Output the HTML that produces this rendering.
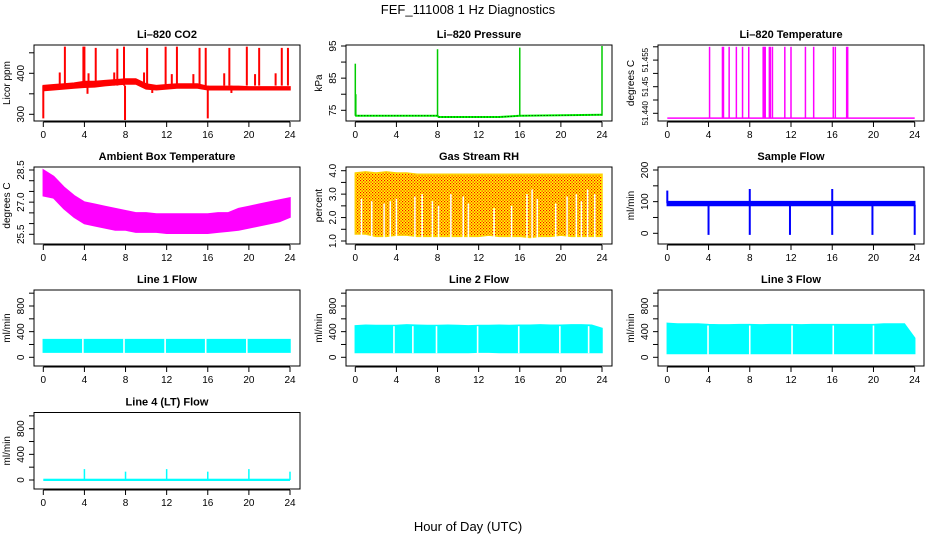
<!DOCTYPE html>
<html><head><meta charset="utf-8"><style>
html,body{margin:0;padding:0;background:#fff;}
svg{display:block;}
text{font-family:"Liberation Sans",sans-serif;fill:#000;}
.t{font-size:11px;font-weight:bold;}
.a{font-size:10px;}
</style></head><body>
<svg id="fig" width="936" height="540" viewBox="0 0 936 540" xmlns="http://www.w3.org/2000/svg">
<defs>
<pattern id="rhpat" width="3" height="3" patternUnits="userSpaceOnUse">
<rect width="3" height="3" fill="#ffff00"/><rect x="0" y="0" width="1.2" height="1.2" fill="#ff0000"/><rect x="1.5" y="1.5" width="1.2" height="1.2" fill="#ff0000"/>
</pattern>
</defs>
<text x="468" y="14" text-anchor="middle" font-size="13">FEF_111008  1 Hz Diagnostics</text>
<text x="468" y="531" text-anchor="middle" font-size="13">Hour of Day (UTC)</text>
</svg>
<script>
// ---------- data ----------
const xTicks = [0,4,8,12,16,20,24];
const hours = [0,1,2,3,4,5,6,7,8,9,10,11,12,13,14,15,16,17,18,19,20,21,22,23,24];
// CO2
const co2Lo = [358,360,362,364,366,367,370,372,374,374,362,360,362,364,364,364,360,360,360,360,360,360,360,360,360];
const co2Hi = [370,372,374,376,380,380,382,384,386,386,374,370,372,374,374,374,368,368,368,368,367,367,367,367,367];
const co2SpikeT = [2.1,3.9,4.0,5.1,7.2,7.85,10.1,11.9,13.0,15.2,15.8,18.1,19.8,21.0,23.2,23.8,1.6,4.4,6.9,9.8,12.5,14.6,17.6,20.6,22.6];
const co2SpikeV = [465,465,465,462,460,465,462,465,465,462,462,462,465,462,462,462,402,400,402,402,398,398,400,398,400];
const co2DipT = [0.0,7.95,16.0,4.3,10.6,18.3];
const co2DipV = [290,286,290,350,352,352];
// Pressure
const presT = [0,8,8.1,14,16,16.1,24];
const presV = [73.3,73.3,72.9,72.9,73.3,73.3,73.6];
const presSpikeT = [0.0,0.05,8.0,16.0,24.0];
const presSpikeV = [89.5,80,94,94.5,95];
// Li-820 temperature
const tempBase = 51.4391;
const tempSpikeT = [4.1,5.35,5.45,6.0,6.7,7.3,7.9,9.3,9.4,9.5,9.9,10.0,10.2,11.4,12.0,13.4,14.2,16.1,16.3,17.4,17.5];
const tempSpikeV = [51.4525,51.4525,51.4525,51.4525,51.4525,51.4525,51.4525,51.4525,51.4525,51.4525,51.4525,51.4525,51.4525,51.4525,51.4525,51.4525,51.4525,51.4525,51.4525,51.4525,51.4525];
// Ambient box temperature
const ambHi = [28.5,28.2,27.7,27.3,27.0,26.9,26.8,26.7,26.6,26.5,26.5,26.45,26.45,26.45,26.45,26.45,26.45,26.5,26.5,26.7,26.8,26.9,27.0,27.1,27.2];
const ambLo = [27.3,27.2,26.7,26.3,26.0,25.9,25.8,25.7,25.7,25.6,25.6,25.6,25.55,25.55,25.55,25.55,25.55,25.6,25.65,25.7,25.8,25.9,26.0,26.1,26.3];
// Gas stream RH
const rhHi = [3.9,3.95,3.9,3.95,3.9,3.9,3.85,3.85,3.85,3.85,3.85,3.85,3.85,3.85,3.85,3.85,3.85,3.85,3.85,3.85,3.85,3.85,3.85,3.85,3.85];
const rhLo = [1.3,1.3,1.2,1.2,1.25,1.25,1.2,1.2,1.2,1.2,1.2,1.2,1.2,1.25,1.2,1.2,1.2,1.15,1.2,1.2,1.25,1.2,1.2,1.2,1.2];
const rhGapT = [0.6,1.6,2.8,3.4,4.0,5.8,6.5,7.5,8.1,9.3,10.5,11.0,13.5,15.2,16.7,17.2,17.7,19.5,20.6,21.5,22.0,22.6,23.3];
const rhGapV = [2.8,2.7,2.6,2.7,2.8,2.9,3.0,2.7,2.5,3.0,2.9,2.6,2.4,2.5,3.0,3.2,2.8,2.6,2.9,3.0,2.7,3.2,3.0];
// Sample flow
const sfLo = 88, sfHi = 100;
const sfDipT = [4.0,8.0,11.9,16.0,19.9,24.0];
const sfDipV = [-5,-5,-5,-5,-5,-5];
const sfSpikeT = [0.0,8.0,16.0];
const sfSpikeV = [135,140,140];
// Line flows
const l1Lo = [80,80,80,80,80,80,80,80,80,80,80,80,80,80,80,80,80,80,80,80,80,80,80,80,80];
const l1Hi = [275,275,275,275,275,275,275,275,275,275,275,275,275,275,275,275,275,275,275,275,275,275,275,275,275];
const l1GapT = [3.85,7.85,11.85,15.8,19.8];
const l2Lo = [75,75,75,75,75,75,75,75,75,75,75,75,80,80,75,75,75,75,75,75,75,75,75,75,75];
const l2Hi = [490,500,495,495,495,505,500,495,495,500,495,490,495,495,500,495,500,500,505,500,500,505,505,500,450];
const l2GapT = [3.76,5.6,7.9,11.9,15.9,19.9,22.7];
const l3Lo = [60,60,60,60,60,60,60,60,60,60,60,60,60,60,60,60,60,60,60,60,60,60,60,60,60];
const l3Hi = [530,520,520,520,510,505,505,510,510,505,510,510,510,505,510,510,510,510,510,510,510,520,520,520,300];
const l3GapT = [3.95,8.0,12.1,16.1,20.0];
const l4Base = [0,20];
const l4SpikeT = [4.0,8.0,12.0,16.0,20.0,24.0];
const l4SpikeV = [170,130,170,130,170,130];

// ---------- layout ----------
const svg = document.getElementById('fig');
const NS = 'http://www.w3.org/2000/svg';
const cols = [{b0:34,b1:300,x0:43.3,x24:290},{b0:346,b1:612,x0:355.3,x24:602},{b0:658,b1:924,x0:667.3,x24:914.7}];
const rows = [[45,121],[167,244],[290,366],[412.5,489]];
function el(tag, attrs, parent){const e=document.createElementNS(NS,tag);for(const k in attrs)e.setAttribute(k,attrs[k]);(parent||svg).appendChild(e);return e;}
function lin(v0,p0,v1,p1){return v=>p0+(v-v0)*(p1-p0)/(v1-v0);}

function panel(name,title,ylab,c,r,yscale,yTicks,yLabels,ylabels2,lblFont){
  const g=el('g',{});
  
  
  const C=cols[c],R=rows[r];
  const xs=lin(0,C.x0,24,C.x24);
  const t=el('text',{x:(C.b0+C.b1)/2,y:R[0]-7,'text-anchor':'middle',class:'t'},g);t.textContent=title;
  
  
  const plot=el('g',{},g);
  
  
  const box=el('rect',{x:C.b0,y:R[0],width:C.b1-C.b0,height:R[1]-R[0],fill:'none',stroke:'#000','stroke-width':1},g);
  
  
  const xa=el('g',{},g);
  
  
  el('line',{x1:xs(0),x2:xs(24),y1:R[1]+1,y2:R[1]+1,stroke:'#000'},xa);
  xTicks.forEach(v=>{el('line',{x1:xs(v),x2:xs(v),y1:R[1]+1,y2:R[1]+6,stroke:'#000'},xa);
    const tx=el('text',{x:xs(v),y:R[1]+17,'text-anchor':'middle',class:'a'},xa);tx.textContent=v;});
  const ya=el('g',{},g);
  
  
  const ax=C.b0;
  el('line',{x1:ax,x2:ax,y1:yscale(yTicks[0]),y2:yscale(yTicks[yTicks.length-1]),stroke:'#000'},ya);
  yTicks.forEach(v=>el('line',{x1:ax-5,x2:ax,y1:yscale(v),y2:yscale(v),stroke:'#000'},ya));
  yLabels.forEach((v,i)=>{const y=yscale(v);const attrs={x:ax-10,y:y,'text-anchor':'middle',class:'a',transform:`rotate(-90 ${ax-10} ${y})`};
    if(lblFont){attrs['font-size']=lblFont;attrs.style='font-size:'+lblFont+'px';}
    const tx=el('text',attrs,ya);tx.textContent=ylabels2?ylabels2[i]:v;});
  const yl=el('text',{x:ax-24,y:(R[0]+R[1])/2,'text-anchor':'middle',class:'a',transform:`rotate(-90 ${ax-24} ${(R[0]+R[1])/2})`},g);yl.textContent=ylab;
  
  
  return {plot,xs};
}
function band(p,xs,ys,lo,hi,fill,name){
  let d='M'+hours.map((h,i)=>xs(h)+','+ys(hi[i])).join('L');
  for(let i=hours.length-1;i>=0;i--)d+='L'+xs(hours[i])+','+ys(lo[i]);
  const e=el('path',{d:d+'Z',fill:fill,stroke:fill==='url(#rhpat)'?'#ffd000':fill,'stroke-width':1.5},p);
  
  
}
function vlines(p,xs,ys,T,V,base,col,w,name){
  T.forEach((t,i)=>{const b=Array.isArray(base)?base[i]:base;
    const e=el('line',{x1:xs(t),x2:xs(t),y1:ys(b),y2:ys(V[i]),stroke:col,'stroke-width':w},p);
    
    });
}
function gaps(p,xs,ys,T,lo,hi,name){
  T.forEach(t=>{const e=el('line',{x1:xs(t),x2:xs(t),y1:ys(lo)+1,y2:ys(hi)-1,stroke:'#fff','stroke-width':1.6},p);
    
    });
}

// CO2
(()=>{const ys=lin(300,114.3,400,73.3);const {plot,xs}=panel('co2','Li\u2013820 CO2','Licor ppm',0,0,ys,[300,350,400,450],[300,400]);
 band(plot,xs,ys,co2Lo,co2Hi,'#ff0000','co2-series');
 vlines(plot,xs,ys,co2SpikeT,co2SpikeV,370,'#ff0000',2,'co2-spike');
 vlines(plot,xs,ys,co2DipT,co2DipV,370,'#ff0000',2,'co2-dip');})();
// Pressure
(()=>{const ys=lin(75,110.3,95,46);const {plot,xs}=panel('pressure','Li\u2013820 Pressure','kPa',1,0,ys,[75,80,85,90,95],[75,85,95]);
 const pts=presT.map((t,i)=>xs(t)+','+ys(presV[i])).join(' ');
 let e=el('polyline',{points:pts,fill:'none',stroke:'#00ff00','stroke-width':2},plot);
 
 
 e=el('polyline',{points:pts,fill:'none',stroke:'#000','stroke-width':1,'stroke-dasharray':'1 2'},plot);
 
 
 vlines(plot,xs,ys,presSpikeT,presSpikeV,73.3,'#00cc00',1.5,'pressure-spike');})();
// Temperature
(()=>{const ys=lin(51.440,113.3,51.445,86.7);const {plot,xs}=panel('li820-temp','Li\u2013820 Temperature','degrees C',2,0,ys,[51.440,51.4425,51.445,51.4475,51.450,51.4525],[51.440,51.445,51.450],['51.440','51.45','51.455'],8);
 const e=el('line',{x1:xs(0),x2:xs(24),y1:ys(tempBase),y2:ys(tempBase),stroke:'#ff00ff','stroke-width':1.5},plot);
 
 
 vlines(plot,xs,ys,tempSpikeT,tempSpikeV,tempBase,'#ff00ff',1.5,'temp-spike');})();
// Ambient
(()=>{const ys=lin(25.5,234.3,28.5,170);const {plot,xs}=panel('ambient','Ambient Box Temperature','degrees C',0,1,ys,[25.5,26,26.5,27,27.5,28,28.5],[25.5,27.0,28.5],['25.5','27.0','28.5']);
 band(plot,xs,ys,ambLo,ambHi,'#ff00ff','ambient-series');})();
// RH
(()=>{const ys=lin(1,241,4,170.7);const {plot,xs}=panel('rh','Gas Stream RH','percent',1,1,ys,[1,1.5,2,2.5,3,3.5,4],[1,2,3,4],['1.0','2.0','3.0','4.0']);
 band(plot,xs,ys,rhLo,rhHi,'url(#rhpat)','rh-series');
 rhGapT.forEach((t,i)=>{const e=el('line',{x1:xs(t),x2:xs(t),y1:ys(1.1),y2:ys(rhGapV[i]),stroke:'#fff','stroke-width':1.5},plot);
  
  });})();
// Sample flow
(()=>{const ys=lin(0,233.3,200,170);const {plot,xs}=panel('sample-flow','Sample Flow','ml/min',2,1,ys,[0,50,100,150,200],[0,100,200]);
 band(plot,xs,ys,hours.map(()=>sfLo),hours.map(()=>sfHi),'#0000ff','sample-flow-series');
 vlines(plot,xs,ys,sfDipT,sfDipV,90,'#0000ff',2,'sample-flow-dip');
 vlines(plot,xs,ys,sfSpikeT,sfSpikeV,95,'#0000ff',2,'sample-flow-spike');})();
// Line flows
const flowTicks=[0,200,400,600,800,1000];
(()=>{const ys=lin(0,357.3,800,306);const {plot,xs}=panel('line1-flow','Line 1 Flow','ml/min',0,2,ys,flowTicks,[0,400,800]);
 band(plot,xs,ys,l1Lo,l1Hi,'#00ffff','line1-flow-series');gaps(plot,xs,ys,l1GapT,80,275,'line1-flow-gap');})();
(()=>{const ys=lin(0,357.3,800,306);const {plot,xs}=panel('line2-flow','Line 2 Flow','ml/min',1,2,ys,flowTicks,[0,400,800]);
 band(plot,xs,ys,l2Lo,l2Hi,'#00ffff','line2-flow-series');gaps(plot,xs,ys,l2GapT,80,470,'line2-flow-gap');})();
(()=>{const ys=lin(0,357.3,800,306);const {plot,xs}=panel('line3-flow','Line 3 Flow','ml/min',2,2,ys,flowTicks,[0,400,800]);
 band(plot,xs,ys,l3Lo,l3Hi,'#00ffff','line3-flow-series');gaps(plot,xs,ys,l3GapT,60,480,'line3-flow-gap');})();
(()=>{const ys=lin(0,480,800,428.7);const {plot,xs}=panel('line4-flow','Line 4 (LT) Flow','ml/min',0,3,ys,flowTicks,[0,400,800]);
 const e=el('rect',{x:xs(0),y:ys(l4Base[1]),width:xs(24)-xs(0),height:ys(l4Base[0])-ys(l4Base[1])+1,fill:'#00ffff'},plot);
 
 
 vlines(plot,xs,ys,l4SpikeT,l4SpikeV,0,'#00ffff',1.5,'line4-flow-spike');})();
</script>
</body></html>
